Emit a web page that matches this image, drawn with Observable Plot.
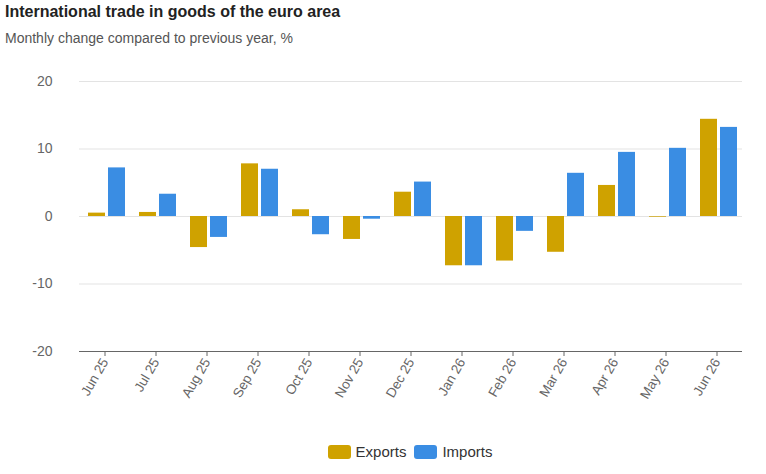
<!DOCTYPE html>
<html>
<head>
<meta charset="utf-8">
<script src="https://cdn.jsdelivr.net/npm/d3@7"></script>
<script src="https://cdn.jsdelivr.net/npm/@observablehq/plot@0.6"></script>
<style>
  body { margin: 0; background: #fff; font-family: "Liberation Sans", Arial, sans-serif; }
  #wrap { position: relative; width: 766px; height: 474px; }
  #title { position: absolute; left: 5px; top: 3px; font-size: 16px; font-weight: bold; color: #222; }
  #subtitle { position: absolute; left: 5px; top: 30px; font-size: 14px; color: #555; }
  #chart { position: absolute; left: 0; top: 55px; }
  #legend { position: absolute; left: 80px; width: 660px; top: 443px; display: flex; justify-content: center; gap: 8px; font-size: 15px; color: #333; }
  .item { display: flex; align-items: center; gap: 5px; }
  .sw { width: 23px; height: 14px; border-radius: 3px; display: inline-block; }
</style>
</head>
<body>
<div id="wrap">
  <div id="title">International trade in goods of the euro area</div>
  <div id="subtitle">Monthly change compared to previous year, %</div>
  <div id="chart"></div>
  <div id="legend"></div>
</div>
<script>
const months = ["Jun 25","Jul 25","Aug 25","Sep 25","Oct 25","Nov 25","Dec 25","Jan 26","Feb 26","Mar 26","Apr 26","May 26","Jun 26"];
const seriesNames = ["Exports","Imports"];
const exportsValues = [0.5, 0.6, -4.6, 7.8, 1.0, -3.4, 3.6, -7.3, -6.6, -5.3, 4.6, -0.1, 14.4];
const importsValues = [7.2, 3.3, -3.1, 7.0, -2.7, -0.4, 5.1, -7.3, -2.2, 6.4, 9.5, 10.1, 13.2];
const yTicks = [-20, -10, 0, 10, 20];
const colors = ["#cfa200", "#3a8de3"];

const data = months.flatMap((m, i) => [
  {month: m, series: "Exports", value: exportsValues[i]},
  {month: m, series: "Imports", value: importsValues[i]}
]);

const chart = Plot.plot({
  width: 766,
  height: 380,
  marginLeft: 75,
  marginRight: 21,
  marginTop: 26,
  marginBottom: 84,
  style: {fontFamily: "'Liberation Sans', Arial, sans-serif", background: "transparent"},
  fx: {domain: months, padding: 0, label: null, axis: null},
  x: {domain: seriesNames, axis: null, paddingInner: 0.165, paddingOuter: 0.35, align: 0.6},
  y: {domain: [-20, 20], label: null},
  color: {domain: seriesNames, range: colors},
  marks: [
    Plot.gridY(yTicks, {stroke: "#e3e3e3", strokeOpacity: 1}),
    Plot.barY(data, {fx: "month", x: "series", y: "value", fill: "series"}),
    Plot.ruleY([-20], {stroke: "#666", strokeWidth: 1}),
    Plot.axisY(yTicks, {tickSize: 0, tickPadding: 27, fontSize: 14, fill: "#666", label: null, tickFormat: d => String(d)}),
    Plot.axisFx({anchor: "bottom", tickRotate: -60, tickSize: 5, tickPadding: 3, fontSize: 13.5, fill: "#666", stroke: "#666", label: null})
  ]
});
document.getElementById("chart").appendChild(chart);

const legend = document.getElementById("legend");
seriesNames.forEach((s, i) => {
  const item = document.createElement("div");
  item.className = "item";
  const sw = document.createElement("span");
  sw.className = "sw";
  sw.style.background = colors[i];
  const t = document.createElement("span");
  t.textContent = s;
  item.appendChild(sw);
  item.appendChild(t);
  legend.appendChild(item);
});
</script>
</body>
</html>
